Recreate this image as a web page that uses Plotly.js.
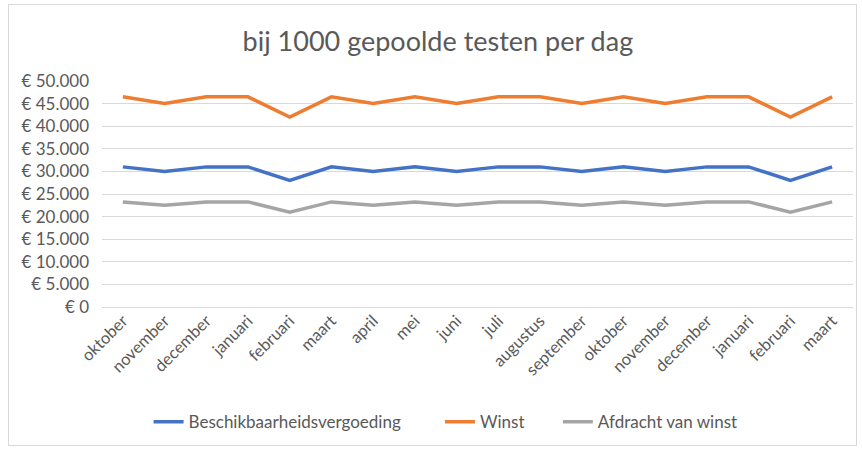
<!DOCTYPE html>
<html>
<head>
<meta charset="utf-8">
<script src="https://cdn.plot.ly/plotly-3.0.1.min.js"></script>
<style>
  html, body { margin: 0; padding: 0; background: #fff; }
  #frame { position: absolute; left: 8px; top: 4px; width: 849px; height: 442px; border: 1px solid #d9d9d9; box-sizing: border-box; }
  #chart { position: absolute; left: 0; top: 0; width: 862px; height: 450px; }
</style>
</head>
<body>
<div id="frame"></div>
<div id="chart"></div>
<script>
var months = ["oktober","november","december","januari","februari","maart","april","mei","juni","juli","augustus","september","oktober","november","december","januari","februari","maart"];
var beschikbaarheid = [31000,30000,31000,31000,28000,31000,30000,31000,30000,31000,31000,30000,31000,30000,31000,31000,28000,31000];
var winst = [46500,45000,46500,46500,42000,46500,45000,46500,45000,46500,46500,45000,46500,45000,46500,46500,42000,46500];
var afdracht = [23250,22500,23250,23250,21000,23250,22500,23250,22500,23250,23250,22500,23250,22500,23250,23250,21000,23250];
var seriesNames = ["Beschikbaarheidsvergoeding","Winst","Afdracht van winst"];

var idx = months.map(function(_, i){ return i; });
var font = "Lato, 'Open Sans', sans-serif";

var traces = [
  {x: idx, y: beschikbaarheid, name: seriesNames[0], type: "scatter", mode: "lines", line: {color: "#4472C4", width: 3.5}, legend: "legend"},
  {x: idx, y: winst, name: seriesNames[1], type: "scatter", mode: "lines", line: {color: "#ED7D31", width: 3.5}, legend: "legend2"},
  {x: idx, y: afdracht, name: seriesNames[2], type: "scatter", mode: "lines", line: {color: "#A5A5A5", width: 3.5}, legend: "legend3"}
];

var legFont = {size: 17, color: "#595959", family: font};
function leg(x) {
  return {orientation: "h", x: x, xanchor: "left", y: -0.51, yanchor: "middle", font: legFont, bgcolor: "rgba(0,0,0,0)"};
}

var layout = {
  width: 862, height: 450,
  paper_bgcolor: "rgba(0,0,0,0)", plot_bgcolor: "rgba(0,0,0,0)",
  separators: ",.",
  margin: {l: 102, r: 9, t: 81, b: 141},
  font: {family: font, color: "#595959", size: 17},
  title: {text: "bij 1000 gepoolde testen per dag", font: {family: font, size: 27, color: "#595959"}, x: 0.508, xref: "container", xanchor: "center", y: 0.907, yref: "container", yanchor: "middle"},
  xaxis: {
    tickmode: "array", tickvals: idx, ticktext: months, tickangle: -45,
    range: [-0.5, 17.5], showgrid: false, zeroline: false, showline: false,
    ticks: "", tickfont: {size: 16.5, color: "#595959"}, fixedrange: true
  },
  yaxis: {
    range: [0, 50000], dtick: 5000, tick0: 0, tickprefix: "€ ", tickformat: ",.0f",
    showgrid: true, gridcolor: "#d9d9d9", gridwidth: 1, zeroline: true, zerolinecolor: "#d9d9d9", zerolinewidth: 1,
    showline: false, ticks: "", ticklabelstandoff: 12, tickfont: {size: 17, color: "#595959"}, fixedrange: true
  },
  legend: leg(0.062),
  legend2: leg(0.450),
  legend3: leg(0.607),
  showlegend: true
};

Plotly.newPlot("chart", traces, layout, {displayModeBar: false, staticPlot: true});
</script>
</body>
</html>
